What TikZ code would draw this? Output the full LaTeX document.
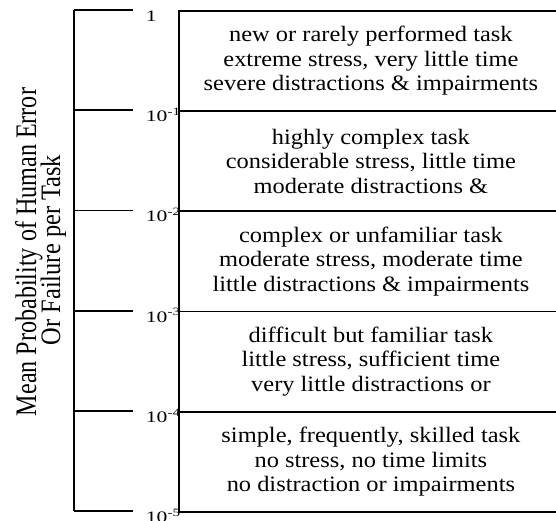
\documentclass[tikz,border=0pt]{standalone}
\usepackage{fontspec}
\setmainfont{Liberation Serif}
\newfontfamily\bandfont[FakeStretch=1.11]{Liberation Serif}
\newfontfamily\tickfont[FakeStretch=1.35]{Liberation Serif}
\begin{document}
\begin{tikzpicture}[x=1pt,y=-1pt,line width=1.8pt,
  band/.style={draw,rectangle,anchor=north west,minimum width=384pt,
    minimum height=100.2pt,inner sep=0pt,align=center,
    font=\bandfont\fontsize{22}{24.5}\selectfont},
  ticklab/.style={anchor=base west,inner sep=0pt,
    font=\tickfont\fontsize{16}{16}\selectfont},
  axislab/.style={rotate=90,anchor=base,inner sep=0pt}]
\useasboundingbox (0,0) rectangle (556,520);
\clip (0,0) rectangle (556,520);

% probability scale on the left
\foreach \i/\y in {0/10,1/110.2,2/210.4,3/310.6,4/410.8,5/511}{
  \coordinate (a\i) at (74,\y);
  \coordinate (b\i) at (133,\y);
}
\draw (a0) -- (a5);
\foreach \i in {0,...,5}{ \draw (a\i) -- (b\i); }

\node[ticklab] (l0) at (145,21.5) {1};
\node[ticklab] (l1) at (145,121.7) {10\textsuperscript{-1}};
\node[ticklab] (l2) at (145,221.9) {10\textsuperscript{-2}};
\node[ticklab] (l3) at (145,322.1) {10\textsuperscript{-3}};
\node[ticklab] (l4) at (145,422.3) {10\textsuperscript{-4}};
\node[ticklab] (l5) at (145,522.5) {10\textsuperscript{-5}};

% axis title, two lines set bottom to top
\node[axislab] (ylab1) at (36,252)
  {\resizebox{328pt}{21pt}{Mean Probability of Human Error}};
\node[axislab] (ylab2) at (60,250)
  {\resizebox{190pt}{19.5pt}{Or Failure per Task}};

% task descriptions, one band per decade
\node[band] (t1) at (178,10) {new or rarely performed task\\extreme stress, very little time\\severe distractions \& impairments};
\node[band] (t2) at (178,110.2) {highly complex task\\considerable stress, little time\\moderate distractions \&};
\node[band] (t3) at (178,210.4) {complex or unfamiliar task\\moderate stress, moderate time\\little distractions \& impairments};
\node[band] (t4) at (178,310.6) {difficult but familiar task\\little stress, sufficient time\\very little distractions or};
\node[band] (t5) at (178,410.8) {simple, frequently, skilled task\\no stress, no time limits\\no distraction or impairments};
\end{tikzpicture}
\end{document}
